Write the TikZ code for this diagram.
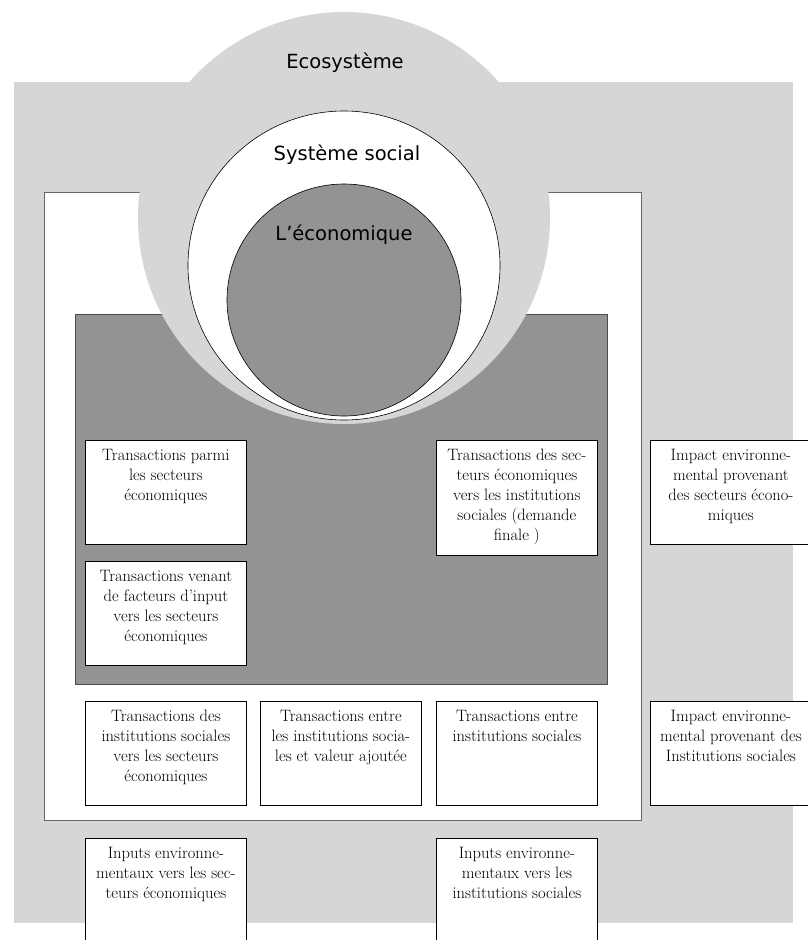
\documentclass[tikz,border=0pt]{standalone}
\usepackage{fontspec}
\newfontfamily\dinfont{DejaVu Sans}
\usetikzlibrary{calc}
\definecolor{ecogris}{gray}{0.84}
\definecolor{ecofonce}{gray}{0.576}

\begin{document}
\begin{tikzpicture}[x=1pt,y=-1pt,
  cell/.style={draw=black,fill=white,line width=0.8pt,minimum width=161pt,anchor=north west,inner sep=0pt},
  celltext/.style={anchor=north,align=center,inner sep=0pt,font=\fontsize{16.5}{20}\selectfont},
  sphere/.style={anchor=base,inner sep=0pt,font=\dinfont\fontsize{19.5}{20}\selectfont}]
  \useasboundingbox (0,0) rectangle (808,940);
  \clip (0,0) rectangle (808,940);

  \path[fill=ecogris] (14,82) rectangle (793,923);
  \draw[fill=white,draw=black!60,line width=0.8pt] (44,192) rectangle (641,820);
  \draw[fill=ecofonce,draw=black!70,line width=0.8pt] (75,314) rectangle (607,684);

  \path[fill=ecogris] (344,218) circle [radius=206];
  \draw[fill=white,line width=0.6pt] (344,265.5) ellipse [x radius=156,y radius=154.5];
  \draw[fill=ecofonce,line width=0.6pt] (344,300) ellipse [x radius=117,y radius=116];

  \node[sphere] (eco) at (345,68) {Ecosystème};
  \node[sphere] (social) at (347,160) {Système social};
  \node[sphere] (econ) at (344,240) {L’économique};

  \node[cell,minimum height=104pt] (parmi) at (85,440) {};
  \node[celltext] (parmiT) at ($(parmi.north)+(0,9)$) {Transactions parmi\\les secteurs\\économiques};
  \node[cell,minimum height=104pt] (facteurs) at (85,561) {};
  \node[celltext] (facteursT) at ($(facteurs.north)+(0,9)$) {Transactions venant\\de facteurs d’input\\vers les secteurs\\économiques};
  \node[cell,minimum height=115pt] (demande) at (436,440) {};
  \node[celltext] (demandeT) at ($(demande.north)+(0,9)$) {Transactions des sec-\\teurs économiques\\vers les institutions\\sociales (demande\\finale )};
  \node[cell,minimum height=104pt] (impactsect) at (650,440) {};
  \node[celltext] (impactsectT) at ($(impactsect.north)+(0,9)$) {Impact environne-\\mental provenant\\des secteurs écono-\\miques};

  \node[cell,minimum height=104pt] (instsect) at (85,701) {};
  \node[celltext] (instsectT) at ($(instsect.north)+(0,9)$) {Transactions des\\institutions sociales\\vers les secteurs\\économiques};
  \node[cell,minimum height=104pt] (valeur) at (260,701) {};
  \node[celltext] (valeurT) at ($(valeur.north)+(0,9)$) {Transactions entre\\les institutions socia-\\les et valeur ajoutée};
  \node[cell,minimum height=104pt] (entre) at (436,701) {};
  \node[celltext] (entreT) at ($(entre.north)+(0,9)$) {Transactions entre\\institutions sociales};
  \node[cell,minimum height=104pt] (impactinst) at (650,701) {};
  \node[celltext] (impactinstT) at ($(impactinst.north)+(0,9)$) {Impact environne-\\mental provenant des\\Institutions sociales};

  \node[cell,minimum height=120pt] (inputsect) at (85,838) {};
  \node[celltext] (inputsectT) at ($(inputsect.north)+(0,9)$) {Inputs environne-\\mentaux vers les sec-\\teurs économiques};
  \node[cell,minimum height=120pt] (inputinst) at (436,838) {};
  \node[celltext] (inputinstT) at ($(inputinst.north)+(0,9)$) {Inputs environne-\\mentaux vers les\\institutions sociales};
\end{tikzpicture}
\end{document}
